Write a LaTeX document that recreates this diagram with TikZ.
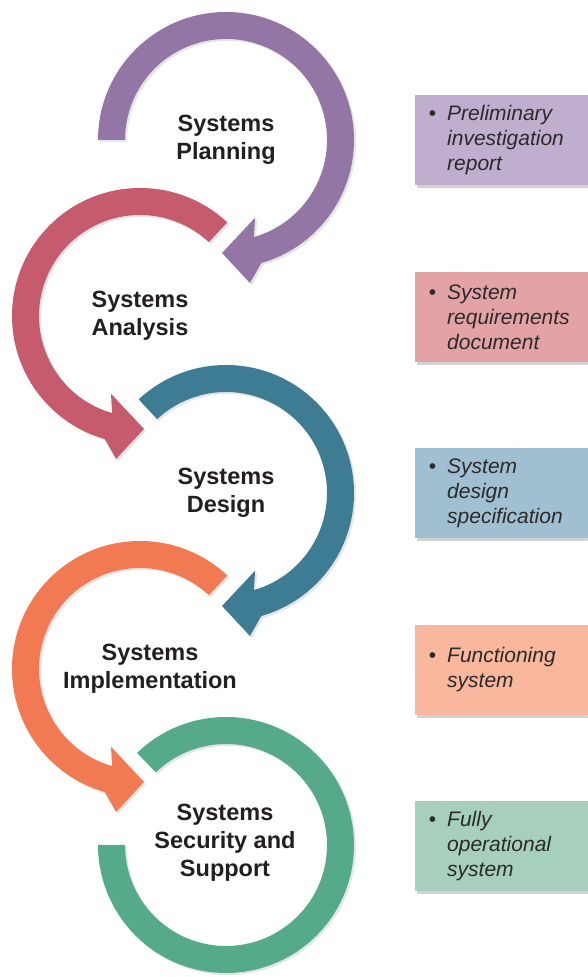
\documentclass[tikz,border=0pt]{standalone}
\usepackage{fontspec}
\setmainfont{Liberation Sans}
\usetikzlibrary{shadows}

\definecolor{purplering}{HTML}{9476A6}
\definecolor{purplebox}{HTML}{C0AECF}
\definecolor{redring}{HTML}{C55B6C}
\definecolor{redbox}{HTML}{E3A2A6}
\definecolor{tealring}{HTML}{3E7C93}
\definecolor{tealbox}{HTML}{A0BFD0}
\definecolor{orangering}{HTML}{F27A53}
\definecolor{orangebox}{HTML}{F9B89D}
\definecolor{greenring}{HTML}{54AA89}
\definecolor{greenbox}{HTML}{A6D0BD}
\definecolor{stagetext}{HTML}{231F20}
\definecolor{boxtext}{HTML}{2B2A2A}

\begin{document}
\begin{tikzpicture}[x=1pt,y=1pt,
    ring/.style={drop shadow={shadow xshift=2pt,shadow yshift=-2pt,opacity=0.2}},
    stage/.style={align=center,text=stagetext,font=\fontsize{23.5}{28}\selectfont\bfseries},
    outbox/.style={anchor=west,text width=150pt,inner xsep=32pt,inner ysep=0pt,
        minimum height=90pt,align=left,text=boxtext,font=\fontsize{21}{25}\selectfont\itshape,
        drop shadow={shadow xshift=2pt,shadow yshift=-3pt,opacity=0.35}}]
                \fill[white] (0,0) rectangle (587,977);
                \useasboundingbox (0,0) rectangle (587,977);
                % centres of the five rings
                \coordinate (planning) at (226,837);
                \coordinate (analysis) at (140,661);
                \coordinate (design) at (226,484);
                \coordinate (implementation) at (140,308);
                \coordinate (support) at (226,132);
                % rings with arrow heads
                \foreach \ctr/\start/\s/\col in {planning/180/1/purplering,analysis/47/-1/redring,design/133/1/tealring,implementation/47/-1/orangering}{
                    \pgfmathsetmacro\bodyend{90+\s*(-164)}
                    \pgfmathsetmacro\wingout{90+\s*(-170.5)}
                    \pgfmathsetmacro\tipang{90+\s*(-182)}
                    \pgfmathsetmacro\wingin{90+\s*(-159.5)}
                    \begin{scope}[shift={(\ctr)}]
                        \fill[ring,fill=\col] (\start:128) arc[start angle=\start,end angle=\bodyend,radius=128]
                            -- (\wingout:145) -- (\tipang:113) -- (\wingin:83) -- (\bodyend:101)
                            arc[start angle=\bodyend,end angle=\start,radius=101] -- cycle;
                    \end{scope}
                }
                \begin{scope}[shift={(support)}]
                    \fill[ring,fill=greenring] (134:128) arc[start angle=134,end angle=-180,radius=128]
                        -- (-180:101) arc[start angle=-180,end angle=134,radius=101] -- cycle;
                \end{scope}
                % stage labels
                \node[stage] (planlbl) at (planning) {Systems\\Planning};
                \node[stage] (analysislbl) at (analysis) {Systems\\Analysis};
                \node[stage] (designlbl) at (design) {Systems\\Design};
                \node[stage] (impllbl) at (150,308) {Systems\\Implementation};
                \node[stage] (supportlbl) at (225,134) {Systems\\Security and\\Support};
                % outputs
                \node[outbox,fill=purplebox] (planbox) at (415,837) {\llap{\upshape\textbullet\hspace{11pt}}Preliminary\\investigation\\report};
                \node[outbox,fill=redbox] (analysisbox) at (415,660) {\llap{\upshape\textbullet\hspace{11pt}}System\\requirements\\document};
                \node[outbox,fill=tealbox] (designbox) at (415,484) {\llap{\upshape\textbullet\hspace{11pt}}System\\design\\specification};
                \node[outbox,fill=orangebox] (implbox) at (415,307) {\llap{\upshape\textbullet\hspace{11pt}}Functioning\\system};
                \node[outbox,fill=greenbox] (supportbox) at (415,131) {\llap{\upshape\textbullet\hspace{11pt}}Fully\\operational\\system};
            \end{tikzpicture}
\end{document}
